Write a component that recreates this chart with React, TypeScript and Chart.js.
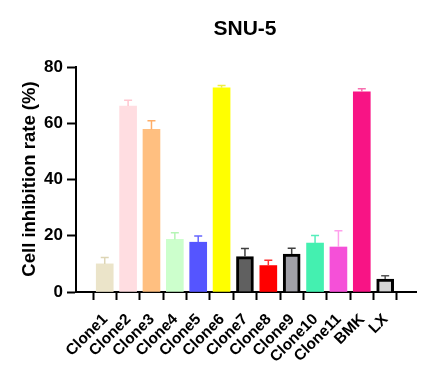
import React, { useEffect, useRef } from "react";
import { Chart, registerables } from "chart.js";

Chart.register(...registerables);

const categories = ["Clone1", "Clone2", "Clone3", "Clone4", "Clone5", "Clone6", "Clone7", "Clone8", "Clone9", "Clone10", "Clone11", "BMK", "LX"];
const values = [10.0, 66.1, 57.8, 18.7, 17.7, 72.6, 12.6, 9.4, 13.5, 17.4, 16.0, 71.2, 4.6];
const errors = [2.3, 2.1, 3.1, 2.4, 2.2, 0.8, 2.9, 1.9, 2.1, 2.7, 5.8, 1.1, 1.2];
const barColors = ["#ebe4c9", "#ffdde1", "#ffbf80", "#ccffcc", "#5555ff", "#ffff00", "#606060", "#ff0000", "#a0a0a8", "#44f0b0", "#f550d8", "#f81485", "#d3d3d3"];
const errorColors = ["#ddd5b5", "#ffc6cf", "#ffad66", "#b5f5b5", "#6666ff", "#eeee44", "#404040", "#ff3030", "#404040", "#55eebb", "#ffa0ec", "#f870b0", "#555555"];
const borderWidths = [0, 0, 0, 0, 0, 0, 3, 0, 3, 0, 0, 0, 3];
const yTicks = [0, 20, 40, 60, 80];
const chartTitle = "SNU-5";
const yTitle = "Cell inhibition rate (%)";

const FONT = "'Liberation Sans', Arial, sans-serif";

const errorBarPlugin = {
  id: "errorBars",
  afterDatasetsDraw(chart: any) {
    const meta = chart.getDatasetMeta(0);
    const yScale = chart.scales.y;
    const ctx = chart.ctx;
    ctx.save();
    meta.data.forEach((el: any, i: number) => {
      const x = el.x;
      const yBar = el.y;
      const yTop = yScale.getPixelForValue(values[i] + errors[i]);
      ctx.strokeStyle = errorColors[i];
      ctx.lineWidth = 1.5;
      ctx.beginPath();
      ctx.moveTo(x, yBar);
      ctx.lineTo(x, yTop);
      ctx.moveTo(x - 4, yTop);
      ctx.lineTo(x + 4, yTop);
      ctx.stroke();
    });
    ctx.restore();
  },
};

const textPlugin = {
  id: "texts",
  afterDraw(chart: any) {
    const ctx = chart.ctx;
    const xScale = chart.scales.x;
    ctx.save();
    ctx.fillStyle = "#000";
    ctx.font = `bold 21px ${FONT}`;
    ctx.textAlign = "center";
    ctx.textBaseline = "alphabetic";
    ctx.fillText(chartTitle, 245, 35);

    // category labels, rotated 45 degrees
    ctx.font = `bold 15.5px ${FONT}`;
    ctx.textAlign = "right";
    ctx.textBaseline = "alphabetic";
    categories.forEach((label, i) => {
      const px = xScale.getPixelForValue(i);
      ctx.save();
      ctx.translate(px + 3.5, xScale.top + 28);
      ctx.rotate(-Math.PI / 4);
      ctx.fillText(label, 0, 0);
      ctx.restore();
    });

    ctx.translate(30, 179);
    ctx.rotate(-Math.PI / 2);
    ctx.font = `bold 18.5px ${FONT}`;
    ctx.textAlign = "center";
    ctx.textBaseline = "middle";
    ctx.fillText(yTitle, 0, 0);
    ctx.restore();
  },
};

export default function App() {
  const ref = useRef<HTMLCanvasElement | null>(null);
  useEffect(() => {
    if (!ref.current) return;
    const chart = new Chart(ref.current, {
      type: "bar",
      data: {
        datasets: [
          {
            data: values.map((v, i) => ({ x: i, y: v })),
            backgroundColor: barColors,
            borderColor: "#000",
            borderWidth: borderWidths,
            borderSkipped: "start",
            barThickness: 17,
          },
        ],
      },
      options: {
        responsive: false,
        animation: false,
        layout: { padding: { left: 0, top: 67, right: 10, bottom: 0 } },
        plugins: { legend: { display: false }, tooltip: { enabled: false }, title: { display: false } },
        scales: {
          x: {
            type: "linear",
            min: -0.67,
            max: 12.76,
            afterBuildTicks: (scale: any) => {
              scale.ticks = categories.map((_, i) => ({ value: i }));
            },
            afterFit: (scale: any) => {
              scale.height = 88;
            },
            ticks: { display: false },
            grid: { drawOnChartArea: false, drawTicks: true, tickLength: 8, tickWidth: 2, tickColor: "#000" },
            border: { display: true, color: "#000", width: 2 },
          },
          y: {
            min: 0,
            max: 80,
            afterBuildTicks: (scale: any) => {
              scale.ticks = yTicks.map((v) => ({ value: v }));
            },
            afterFit: (scale: any) => {
              scale.width = 76;
            },
            ticks: {
              padding: 4,
              color: "#000",
              font: { family: FONT, size: 17, weight: "bold" },
            },
            grid: { drawOnChartArea: false, drawTicks: true, tickLength: 9, tickWidth: 2, tickColor: "#000" },
            border: { display: true, color: "#000", width: 2 },
          },
        },
      },
      plugins: [errorBarPlugin, textPlugin],
    } as any);
    return () => chart.destroy();
  }, []);
  return (
    <div style={{ position: "absolute", left: 0, top: 0, width: 426, height: 380, background: "#fff" }}>
      <canvas ref={ref} width={426} height={380} />
    </div>
  );
}
